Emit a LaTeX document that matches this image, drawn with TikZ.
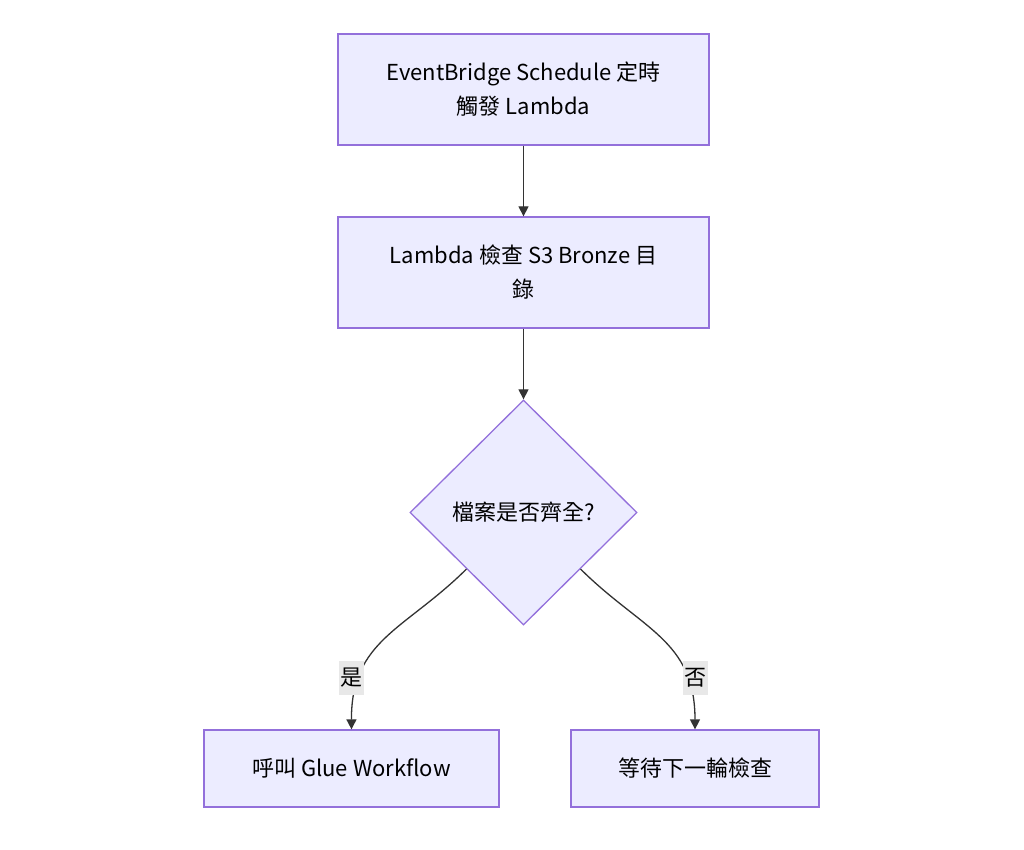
\documentclass[tikz,border=0pt]{standalone}
\usepackage{fontspec}
\setmainfont{Noto Sans CJK TC}
\usepackage{tikz}
\usetikzlibrary{shapes.geometric,arrows.meta}
\definecolor{nodefill}{HTML}{ECECFF}
\definecolor{nodeline}{HTML}{9370DB}
\definecolor{edgeline}{HTML}{333333}
\definecolor{labelbg}{HTML}{E8E8E8}

\begin{document}
\begin{tikzpicture}[x=1pt,y=-1pt,
    stepbox/.style={draw=nodeline,fill=nodefill,line width=1.3pt,align=center,inner sep=0pt,font=\fontsize{22}{34}\selectfont},
    decision/.style={diamond,draw=nodeline,fill=nodefill,line width=1.3pt,inner sep=0pt,minimum width=227pt,minimum height=225pt,font=\fontsize{22}{34}\selectfont},
    flow/.style={draw=edgeline,line width=1.3pt,-{Triangle[length=10pt,width=10pt]}},
    tag/.style={fill=labelbg,inner sep=1.5pt,minimum height=34pt,font=\fontsize{22}{34}\selectfont}]
    \fill [white] (0,0) rectangle (1024,850);
    \useasboundingbox (0,0) rectangle (1024,850);

    \node [stepbox,minimum width=371pt,minimum height=111pt] (trigger) at (523.5,89.5) {EventBridge Schedule 定時\\觸發 Lambda};
    \node [stepbox,minimum width=371pt,minimum height=111pt] (check) at (523.5,272.5) {Lambda 檢查 S3 Bronze 目\\錄};
    \node [decision] (full) at (523.5,512.5) {檔案是否齊全?};
    \node [stepbox,minimum width=295pt,minimum height=77pt] (callglue) at (351.5,768.5) {呼叫 Glue Workflow};
    \node [stepbox,minimum width=248pt,minimum height=77pt] (waitnext) at (695,768.5) {等待下一輪檢查};

    \draw [flow] (trigger) -- (check);
    \draw [flow] (check) -- (full);
    \draw [flow] (full.south west) .. controls (405,630) and (351,640) .. (callglue.north);
    \draw [flow] (full.south east) .. controls (642,630) and (695,640) .. (waitnext.north);
    % edge labels
    \node [tag] (yes) at (351.5,677.5) {是};
    \node [tag] (no) at (695,677.5) {否};
\end{tikzpicture}
\end{document}
